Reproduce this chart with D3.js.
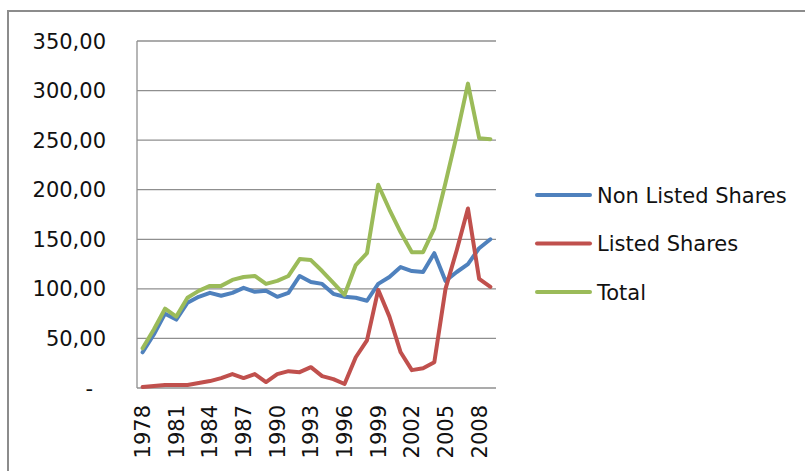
<!DOCTYPE html>
<html>
<head>
<meta charset="utf-8">
<script src="https://d3js.org/d3.v7.min.js"></script>
<style>
  body { margin: 0; background: #fff; }
  text { font-family: "DejaVu Sans", sans-serif; fill: #111; }
</style>
</head>
<body>
<div id="my_dataviz"></div>
<script>
// Data (years on the category axis)
var years = ["1978","1979","1980","1981","1982","1983","1984","1985","1986","1987",
  "1988","1989","1990","1991","1992","1993","1994","1995","1996","1997",
  "1998","1999","2000","2001","2002","2003","2004","2005","2006","2007","2008","2009"]

var nonListed = [36, 54, 75, 69, 86, 92, 96, 93, 96, 101, 97, 98, 92, 96, 113, 107,
  105, 95, 92, 91, 88, 105, 112, 122, 118, 117, 136, 108, 117, 125, 141, 150]
var listed = [1, 2, 3, 3, 3, 5, 7, 10, 14, 10, 14, 6, 14, 17, 16, 21,
  12, 9, 4, 31, 48, 99, 72, 36, 18, 20, 26, 100, 139, 181, 110, 102]
var total = [40, 59, 80, 72, 91, 98, 103, 103, 109, 112, 113, 105, 108, 113, 130, 129,
  118, 106, 94, 124, 136, 205, 180, 157, 137, 137, 161, 207, 255, 307, 252, 251]

var seriesNames = ["Non Listed Shares", "Listed Shares", "Total"]
var seriesColors = ["#4F81BD", "#C0504D", "#9BBB59"]

// y axis ticks and their labels (Excel accounting format, zero shown as "-")
var yTicks = [0, 50, 100, 150, 200, 250, 300, 350]
var yTickLabels = ["-", "50,00", "100,00", "150,00", "200,00", "250,00", "300,00", "350,00"]
// only every third year is labelled
var xTickLabels = ["1978","1981","1984","1987","1990","1993","1996","1999","2002","2005","2008"]

var width = 805
var height = 471

// plot area bounds ("top" is taken by window.top, so prefix them)
var plotLeft = 137, plotRight = 496, plotTop = 41, plotBottom = 388

var svg = d3.select("#my_dataviz")
  .append("svg")
    .attr("width", width)
    .attr("height", height)

// chart area frame (runs off the right and bottom of the picture)
svg.append("rect")
  .attr("x", 8)
  .attr("y", 11)
  .attr("width", width)
  .attr("height", height)
  .attr("fill", "none")
  .attr("stroke", "#8c8c8c")
  .attr("stroke-width", 2)

var x = d3.scaleBand()
  .domain(years)
  .range([plotLeft, plotRight])

var y = d3.scaleLinear()
  .domain([0, 350])
  .range([plotBottom, plotTop])

// horizontal gridlines
svg.selectAll(".grid")
  .data(yTicks)
  .enter()
  .append("line")
  .attr("class", "grid")
  .attr("x1", plotLeft)
  .attr("x2", plotRight)
  .attr("y1", function(d) { return y(d) })
  .attr("y2", function(d) { return y(d) })
  .attr("stroke", "#8f8f8f")
  .attr("stroke-width", 1.3)

// left axis line
svg.append("line")
  .attr("x1", plotLeft).attr("x2", plotLeft)
  .attr("y1", plotTop).attr("y2", plotBottom)
  .attr("stroke", "#8f8f8f")
  .attr("stroke-width", 1.3)

// y tick labels
svg.selectAll(".ylab")
  .data(yTicks)
  .enter()
  .append("text")
  .attr("class", "ylab")
  .attr("x", function(d) { return d === 0 ? 93 : 106 })
  .attr("y", function(d) { return y(d) })
  .attr("dy", "0.36em")
  .attr("text-anchor", "end")
  .style("font-size", "21px")
  .text(function(d, i) { return yTickLabels[i] })

// x tick labels, rotated
svg.selectAll(".xlab")
  .data(xTickLabels)
  .enter()
  .append("text")
  .attr("class", "xlab")
  .attr("transform", function(d) {
    return "translate(" + (x(d) + x.bandwidth() / 2) + ",405) rotate(-90)"
  })
  .attr("dy", "0.36em")
  .attr("text-anchor", "end")
  .style("font-size", "21px")
  .text(function(d) { return d })

// one line per series
var seriesValues = [nonListed, listed, total]

var line = d3.line()
  .x(function(d, i) { return x(years[i]) + x.bandwidth() / 2 })
  .y(function(d) { return y(d) })

svg.selectAll(".series")
  .data(seriesValues)
  .enter()
  .append("path")
  .attr("class", "series")
  .attr("d", line)
  .attr("fill", "none")
  .attr("stroke", function(d, i) { return seriesColors[i] })
  .attr("stroke-width", 4)
  .attr("stroke-linejoin", "round")
  .attr("stroke-linecap", "round")

// legend on the right
var legend = svg.selectAll(".legend")
  .data(seriesNames)
  .enter()
  .append("g")
  .attr("class", "legend")
  .attr("transform", function(d, i) { return "translate(537," + (195 + i * 48.5) + ")" })

legend.append("line")
  .attr("x1", 0)
  .attr("x2", 53)
  .attr("stroke", function(d, i) { return seriesColors[i] })
  .attr("stroke-width", 4)
  .attr("stroke-linecap", "round")

legend.append("text")
  .attr("x", 60)
  .attr("y", 0)
  .attr("dy", "0.36em")
  .style("font-size", "21px")
  .text(function(d) { return d })
</script>
</body>
</html>
